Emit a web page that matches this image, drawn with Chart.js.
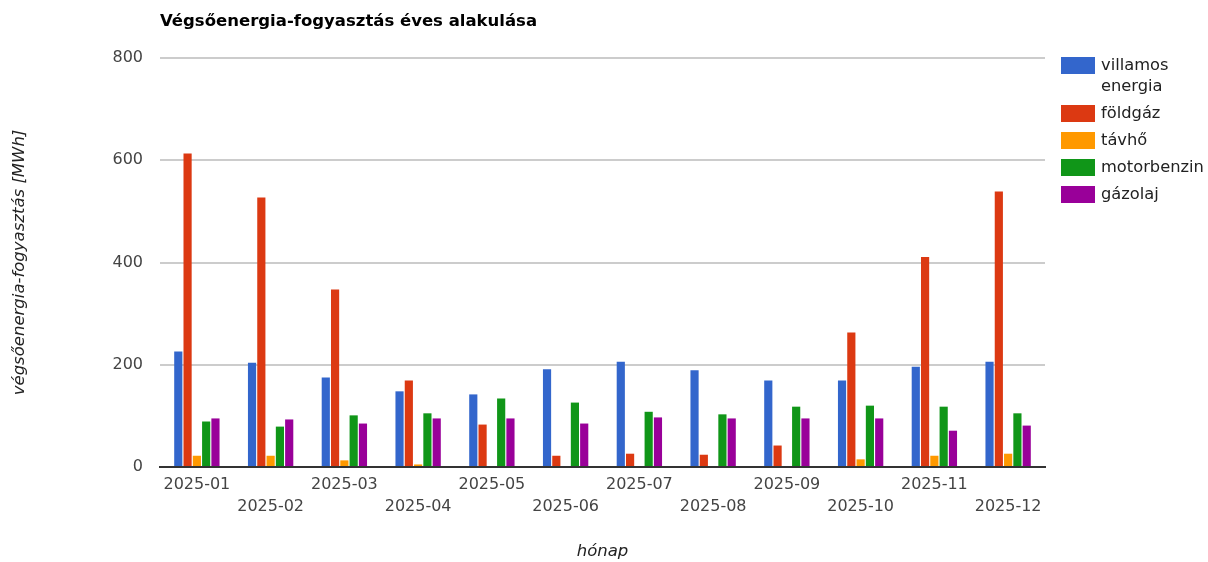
<!DOCTYPE html>
<html lang="hu">
<head>
<meta charset="utf-8">
<title>Végsőenergia-fogyasztás</title>
<script src="https://cdn.jsdelivr.net/npm/chart.js@4/dist/chart.umd.min.js"></script>
<style>
  html, body { margin: 0; padding: 0; background: #fff; }
  #wrap { position: relative; width: 1208px; height: 562px; }
</style>
</head>
<body>
<div id="wrap"><canvas id="chart" width="1208" height="562"></canvas></div>
<script>
const months = ['2025-01', '2025-02', '2025-03', '2025-04', '2025-05', '2025-06',
  '2025-07', '2025-08', '2025-09', '2025-10', '2025-11', '2025-12'];

// MWh per month
const villamosEnergia = [226, 204, 175, 148, 142, 191, 206, 189, 169, 169, 196, 206];
const foldgaz = [613, 527, 347, 169, 83, 22, 26, 24, 42, 263, 411, 539];
const tavho = [22, 22, 13, 5, 0, 0, 0, 0, 0, 15, 22, 26];
const motorbenzin = [89, 79, 101, 105, 134, 126, 108, 103, 118, 120, 118, 105];
const gazolaj = [95, 93, 85, 95, 95, 85, 97, 95, 95, 95, 71, 81];

const yTicks = [0, 200, 400, 600, 800];

const FONT = 'DejaVu Sans';

// odd months on the first row, even months on the second
const staggered = months.map((m, i) => (i % 2 === 0 ? [m, ''] : ['', m]));

const series = [
  { label: ['villamos', 'energia'], data: villamosEnergia, color: '#3366cc' },
  { label: ['földgáz'], data: foldgaz, color: '#dc3912' },
  { label: ['távhő'], data: tavho, color: '#ff9900' },
  { label: ['motorbenzin'], data: motorbenzin, color: '#109618' },
  { label: ['gázolaj'], data: gazolaj, color: '#990099' },
];

// title and right-hand legend with wrapped labels
const decorations = {
  id: 'decorations',
  afterDraw(chart) {
    const ctx = chart.ctx;
    ctx.save();
    ctx.fillStyle = '#000';
    ctx.font = `bold 16.5px "${FONT}"`;
    ctx.textBaseline = 'middle';
    ctx.textAlign = 'left';
    ctx.fillText('Végsőenergia-fogyasztás éves alakulása', chart.chartArea.left, 22);

    let y = 57;
    ctx.font = `16.3px "${FONT}"`;
    chart.data.datasets.forEach((ds) => {
      ctx.fillStyle = ds.backgroundColor;
      ctx.fillRect(1061, y, 34, 17);
      ctx.fillStyle = '#222';
      ds.lines.forEach((line, k) => {
        ctx.fillText(line, 1101, y + 9 + k * 21);
      });
      y += 26 + (ds.lines.length - 1) * 21 + 1;
    });
    ctx.restore();
  },
};

new Chart(document.getElementById('chart'), {
  type: 'bar',
  data: {
    labels: staggered,
    datasets: series.map((s) => ({
      label: s.label.join(' '),
      lines: s.label,
      data: s.data,
      backgroundColor: s.color,
      borderWidth: 0,
      categoryPercentage: 0.63,
      barPercentage: 0.88,
    })),
  },
  options: {
    responsive: false,
    animation: false,
    layout: {
      padding: { left: 0, right: 163, top: 58, bottom: 0 },
    },
    plugins: {
      legend: { display: false },
      tooltip: { enabled: false },
    },
    scales: {
      x: {
        grid: { display: false, drawTicks: false },
        border: { display: true, color: '#333', width: 2 },
        ticks: {
          color: '#444',
          padding: 7,
          maxRotation: 0,
          autoSkip: false,
          font: { family: FONT, size: 16, lineHeight: 1.375 },
        },
        title: {
          display: true,
          text: 'hónap',
          color: '#222',
          padding: { top: 0, bottom: 0 },
          font: { family: FONT, size: 16.5, style: 'italic' },
        },
        afterFit(scale) {
          scale.height = 95;
        },
      },
      y: {
        min: 0,
        max: 800,
        afterBuildTicks(scale) {
          scale.ticks = yTicks.map((v) => ({ value: v }));
        },
        grid: {
          drawTicks: false,
          color: (c) => (c.tick && c.tick.value === 0 ? 'rgba(0,0,0,0)' : '#cccccc'),
          lineWidth: 2,
        },
        border: { display: false },
        ticks: {
          color: '#444',
          padding: 17,
          font: { family: FONT, size: 16 },
        },
        title: {
          display: true,
          text: 'végsőenergia-fogyasztás [MWh]',
          color: '#222',
          padding: { top: 10, bottom: 0 },
          font: { family: FONT, size: 16.5, style: 'italic' },
        },
        afterFit(scale) {
          scale.width = 160;
        },
      },
    },
  },
  plugins: [decorations],
});
</script>
</body>
</html>
